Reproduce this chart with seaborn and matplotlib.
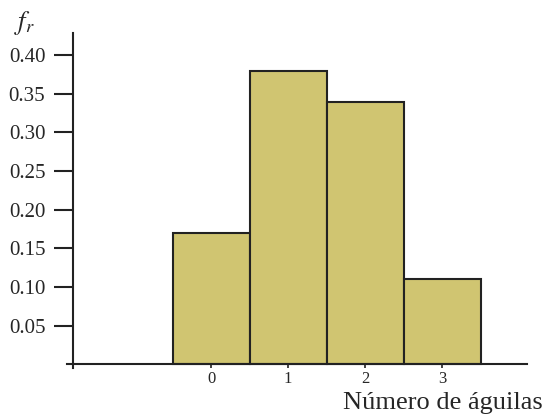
import matplotlib
matplotlib.use("Agg")
import matplotlib.pyplot as plt
import seaborn as sns
import pandas as pd

# Relative frequency of the number of eagles observed
categories = ["0", "1", "2", "3"]
rel_freq = [0.17, 0.38, 0.34, 0.11]
y_ticks = [0.05, 0.10, 0.15, 0.20, 0.25, 0.30, 0.35, 0.40]
x_label = "Número de águilas"
y_label = r"$f_r$"

sns.set_theme(style="white")
plt.rcParams["font.family"] = ["Liberation Serif", "DejaVu Serif"]
plt.rcParams["mathtext.fontset"] = "stix"

df = pd.DataFrame({"n": categories, "fr": rel_freq})

fig = plt.figure(figsize=(5.45, 4.15), dpi=100)
ax = fig.add_axes([0.1229, 0.1133, 0.8441, 0.8072])

sns.barplot(data=df, x="n", y="fr", color="#d0c571", saturation=1,
            edgecolor="#222222", linewidth=1.5, width=1.0, ax=ax)

ax.set_xlim(-1.87, 4.1)
ax.set_ylim(-0.005, 0.4288)

for side in ("top", "right"):
    ax.spines[side].set_visible(False)
ax.spines["left"].set_position(("data", -1.79))
ax.spines["bottom"].set_position(("data", 0))
for side in ("left", "bottom"):
    ax.spines[side].set_color("#222222")
    ax.spines[side].set_linewidth(1.5)

ax.set_yticks(y_ticks)
ax.set_yticklabels([f"{v:.2f}" for v in y_ticks], fontsize=15)
ax.tick_params(axis="y", direction="out", length=14, width=1.5,
               color="#222222", pad=6, left=True)
ax.tick_params(axis="x", direction="out", length=3, width=1.2,
               color="#222222", pad=2, labelsize=12, bottom=True)

ax.set_xlabel("")
ax.set_ylabel("")
fig.text(0.995, 0.028, x_label, ha="right", va="center", fontsize=19)
fig.text(0.045, 0.945, y_label, ha="center", va="center", fontsize=19)

fig.savefig("out.png", dpi=100)
